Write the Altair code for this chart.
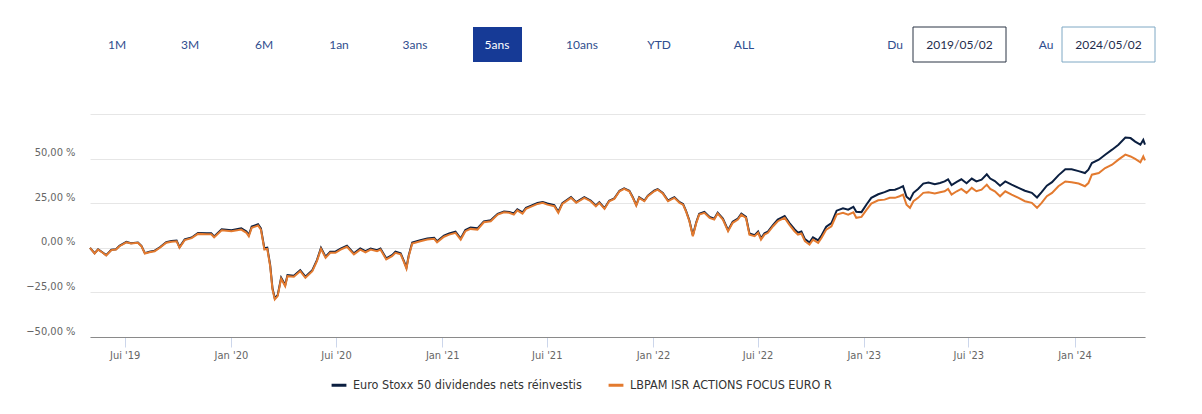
import altair as alt
import pandas as pd

START = "2019-05-02"
SER_IDX = "Euro Stoxx 50 dividendes nets réinvestis"
SER_FUND = "LBPAM ISR ACTIONS FOCUS EURO R"

day_offsets = [0, 8, 14, 22, 28, 37, 45, 51, 63, 71, 83, 89, 95, 103, 112, 121, 132, 141, 150, 155,
               164, 176, 187, 202, 210, 215, 228, 245, 262, 271, 275, 280, 291, 296, 302, 307, 312, 316, 320, 325,
               331, 338, 342, 353, 364, 373, 385, 393, 400, 408, 416, 425, 434, 445, 457, 468, 477, 486, 497, 503,
               513, 523, 529, 538, 543, 548, 552, 558, 572, 584, 596, 601, 613, 622, 633, 642, 650, 659, 671, 682,
               694, 706, 717, 726, 734, 740, 749, 755, 763, 775, 784, 792, 804, 811, 818, 833, 842, 856, 867, 876,
               882, 891, 899, 908, 917, 925, 934, 940, 946, 951, 960, 966, 977, 983, 992, 1001, 1006, 1012, 1021, 1027,
               1032, 1038, 1044, 1050, 1055, 1064, 1073, 1081, 1087, 1096, 1105, 1113, 1122, 1128, 1136, 1142, 1151, 1157, 1162, 1168,
               1174, 1183, 1191, 1203, 1211, 1220, 1226, 1232, 1238, 1246, 1252, 1261, 1267, 1275, 1284, 1293, 1304, 1313, 1322, 1327,
               1336, 1345, 1353, 1365, 1376, 1385, 1394, 1402, 1408, 1414, 1420, 1426, 1434, 1443, 1452, 1463, 1472, 1480, 1486, 1492,
               1501, 1509, 1518, 1527, 1535, 1544, 1553, 1559, 1567, 1576, 1585, 1596, 1608, 1619, 1631, 1640, 1648, 1657, 1666, 1677,
               1689, 1700, 1712, 1723, 1729, 1735, 1747, 1758, 1770, 1781, 1793, 1802, 1810, 1819, 1824, 1827]

fund_perf = [0.0, -3.2, -1.0, -2.8, -4.3, -1.3, -1.0, 0.9, 3.1, 2.4, 2.8, 0.9, -3.2, -2.5, -1.9, 0.0, 2.8, 3.4, 3.7, 0.0,
             4.3, 5.4, 7.8, 7.6, 7.6, 5.9, 9.8, 9.3, 10.2, 8.4, 6.5, 11.2, 12.5, 10.2, -1.0, -0.6, -10.3, -23.3, -28.9, -27.1,
             -17.3, -21.5, -15.9, -16.2, -13.1, -16.8, -13.1, -7.5, -0.6, -5.6, -2.8, -2.8, -1.0, 0.6, -3.7, -1.0, -2.5, -1.0, -1.9, -1.0,
             -6.5, -4.7, -2.8, -3.7, -7.5, -11.7, -4.7, 2.4, 3.7, 4.6, 5.0, 3.1, 6.2, 7.4, 8.4, 4.6, 9.3, 10.6, 10.2, 14.3,
             14.9, 18.6, 19.9, 19.6, 18.6, 21.0, 19.2, 21.8, 22.9, 24.6, 25.2, 24.2, 23.3, 19.6, 24.6, 28.0, 25.2, 28.0, 26.1, 23.3,
             25.2, 21.8, 26.1, 27.4, 31.7, 33.0, 31.7, 28.0, 23.7, 28.0, 26.1, 28.9, 31.7, 32.6, 30.4, 26.1, 27.0, 28.0, 25.2, 24.2,
             20.5, 14.9, 6.5, 14.0, 18.6, 19.6, 16.8, 15.8, 19.2, 15.8, 9.3, 14.0, 15.8, 18.6, 16.8, 7.4, 6.5, 8.4, 4.6, 7.4,
             8.4, 12.1, 14.9, 16.8, 13.0, 9.3, 7.4, 8.0, 3.7, 1.8, 4.6, 2.8, 5.6, 10.2, 12.1, 18.6, 19.6, 18.6, 19.9, 16.8,
             17.3, 21.4, 24.8, 26.6, 27.0, 28.0, 28.0, 28.9, 29.8, 24.2, 22.4, 26.1, 28.0, 30.8, 31.1, 30.4, 31.1, 31.7, 33.0, 29.8,
             31.7, 33.0, 30.8, 33.6, 31.7, 32.6, 35.4, 33.0, 31.7, 28.9, 31.7, 29.8, 28.0, 26.1, 25.2, 22.4, 25.2, 28.9, 30.8, 34.5,
             37.2, 36.7, 36.0, 34.5, 36.3, 41.0, 41.9, 44.7, 46.6, 49.4, 52.2, 51.2, 49.8, 47.9, 51.2, 49.0]

index_perf = [0.0, -3.0, -0.8, -2.6, -4.1, -1.1, -0.8, 1.1, 3.3, 2.6, 3.0, 1.1, -3.0, -2.2, -1.6, 0.3, 3.1, 3.8, 4.1, 0.4,
              4.7, 5.8, 8.3, 8.1, 8.1, 6.4, 10.4, 9.9, 10.9, 9.1, 7.2, 11.9, 13.2, 10.9, -0.3, 0.1, -9.6, -22.6, -28.3, -26.5,
              -16.7, -20.9, -15.3, -15.6, -12.5, -16.2, -12.5, -6.9, 0.0, -5.0, -2.2, -2.2, -0.4, 1.2, -3.1, -0.4, -1.9, -0.4, -1.3, -0.4,
              -5.9, -4.1, -2.2, -3.1, -6.9, -11.1, -4.1, 3.0, 4.3, 5.2, 5.6, 3.7, 6.8, 8.0, 9.0, 5.2, 10.0, 11.3, 10.9, 14.8,
              15.4, 19.0, 20.4, 20.1, 19.3, 21.6, 19.9, 22.4, 23.5, 25.2, 25.7, 24.8, 23.9, 20.2, 25.0, 28.4, 25.6, 28.4, 26.5, 23.7,
              25.6, 22.2, 26.4, 27.7, 32.0, 33.3, 32.0, 28.3, 24.0, 28.3, 26.4, 29.2, 32.0, 32.9, 30.8, 26.5, 27.4, 28.4, 25.6, 24.6,
              20.9, 15.3, 7.0, 14.5, 19.1, 20.1, 17.3, 16.3, 19.7, 16.4, 9.9, 14.6, 16.4, 19.2, 17.4, 8.0, 7.1, 9.1, 5.3, 8.1,
              9.1, 12.9, 15.8, 17.8, 14.0, 10.4, 8.5, 9.2, 4.9, 3.0, 5.9, 4.2, 7.0, 11.8, 13.8, 20.8, 22.2, 21.4, 23.0, 20.2,
              20.0, 24.4, 28.0, 30.0, 31.2, 32.4, 32.6, 33.6, 34.6, 28.6, 27.0, 30.8, 33.0, 36.0, 36.6, 35.6, 36.3, 37.2, 38.4, 35.2,
              37.0, 38.4, 36.2, 38.8, 37.2, 38.2, 41.2, 38.8, 37.4, 34.8, 37.2, 35.4, 33.6, 32.0, 30.8, 28.2, 31.2, 34.8, 36.8, 40.6,
              44.0, 44.0, 43.0, 41.9, 43.8, 47.5, 49.4, 52.2, 55.0, 57.8, 61.8, 61.5, 59.5, 57.8, 60.5, 57.8]

x_tick_dates = [(2019, 7), (2020, 1), (2020, 7), (2021, 1), (2021, 7), (2022, 1),
                (2022, 7), (2023, 1), (2023, 7), (2024, 1)]
y_ticks = [-50, -25, 0, 25, 50, 75]

period_buttons = ["1M", "3M", "6M", "1an", "3ans", "5ans", "10ans", "YTD", "ALL"]
active_button = "5ans"
date_from = "2019/05/02"
date_to = "2024/05/02"

NAVY = "#0b1f40"
ORANGE = "#e37a2f"
AXIS_FONT = "DejaVu Sans Condensed, Liberation Sans Narrow, DejaVu Sans"

dates = (pd.Timestamp(START) + pd.to_timedelta(day_offsets, unit="D")).strftime("%Y-%m-%d")
df_idx = pd.DataFrame({"date": dates, "perf": index_perf, "serie": SER_IDX})
df_fund = pd.DataFrame({"date": dates, "perf": fund_perf, "serie": SER_FUND})

x_scale = alt.Scale(domain=[alt.DateTime(year=2019, month=5, date=2),
                            alt.DateTime(year=2024, month=5, date=2)], nice=False)
y_scale = alt.Scale(domain=[-50, 75], nice=False)
color_scale = alt.Scale(domain=[SER_IDX, SER_FUND], range=[NAVY, ORANGE])

x_axis = alt.Axis(
    values=[alt.DateTime(year=y, month=m, date=1) for y, m in x_tick_dates],
    labelExpr="""(month(datum.value) == 0 ? 'Jan' : 'Jui') + " '" + timeFormat(datum.value, '%y')""",
    title=None, grid=False, domain=True, tickSize=10, tickColor="#ccd6eb", domainColor="#8a8a8a",
    labelColor="#666666", labelFontSize=11, labelFont=AXIS_FONT, labelPadding=2,
    labelFlush=False, labelOverlap=False,
)
y_axis = alt.Axis(
    values=y_ticks,
    labelExpr="datum.value == 75 ? '' : replace(format(datum.value, '.2f'), '.', ',') + ' %'",
    title=None, grid=True, gridColor="#e6e6e6", domain=False, ticks=False,
    labelPadding=15, labelColor="#666666", labelFontSize=11, labelFont=AXIS_FONT,
    labelOffset=-6,
)

legend = alt.Legend(
    title=None, orient="none", legendX=240, legendY=262, direction="horizontal",
    symbolType="stroke", symbolSize=220, symbolStrokeWidth=3, labelFontSize=12.5,
    labelFont=AXIS_FONT, labelColor="#333333", columnPadding=20,
    labelOffset=5, labelLimit=0,
)

line_idx = alt.Chart(df_idx).mark_line(strokeWidth=2).encode(
    x=alt.X("date:T", scale=x_scale, axis=x_axis),
    y=alt.Y("perf:Q", scale=y_scale, axis=y_axis),
    color=alt.Color("serie:N", scale=color_scale, legend=legend),
)
line_fund = alt.Chart(df_fund).mark_line(strokeWidth=2).encode(
    x=alt.X("date:T", scale=x_scale, axis=x_axis),
    y=alt.Y("perf:Q", scale=y_scale, axis=y_axis),
    color=alt.Color("serie:N", scale=color_scale, legend=legend),
)

# --- range selector buttons and date inputs (UI decorations above the plot) ---
btn_x = {"1M": 27, "3M": 100, "6M": 174, "1an": 249, "3ans": 325, "5ans": 407,
         "10ans": 492, "YTD": 569, "ALL": 654}
ui_layers = []
for b in period_buttons:
    if b == active_button:
        ui_layers.append(
            alt.Chart(pd.DataFrame({"t": [b]})).mark_rect(fill="#163a96").encode(
                x=alt.value(btn_x[b] - 24), x2=alt.value(btn_x[b] + 25),
                y=alt.value(-87), y2=alt.value(-52)))
    ui_layers.append(
        alt.Chart(pd.DataFrame({"t": [b]})).mark_text(
            font="Lato", fontSize=12, baseline="middle", align="center",
            color="white" if b == active_button else "#2f4d8e").encode(
            x=alt.value(btn_x[b]), y=alt.value(-69), text="t:N"))

for lab, lab_x, box_x1, box_x2, val, border in [
        ("Du", 805, 823, 916, date_from, "#2b3545"),
        ("Au", 956, 972, 1065, date_to, "#7fa8c4")]:
    ui_layers.append(
        alt.Chart(pd.DataFrame({"t": [lab]})).mark_text(
            font="Lato", fontSize=12, baseline="middle", align="center", color="#2f4d8e").encode(
            x=alt.value(lab_x), y=alt.value(-69), text="t:N"))
    ui_layers.append(
        alt.Chart(pd.DataFrame({"t": [val]})).mark_rect(fill="white", stroke=border, strokeWidth=1).encode(
            x=alt.value(box_x1), x2=alt.value(box_x2), y=alt.value(-87), y2=alt.value(-52)))
    ui_layers.append(
        alt.Chart(pd.DataFrame({"t": [val]})).mark_text(
            font="Lato", fontSize=12, baseline="middle", align="center", color="#1f2d4d").encode(
            x=alt.value((box_x1 + box_x2) / 2), y=alt.value(-69), text="t:N"))

chart = alt.layer(line_idx, line_fund, *ui_layers).properties(
    width=1055, height=223,
    background="white",
    autosize=alt.AutoSizeParams(type="none"),
    padding={"left": 82, "top": 106, "right": 45, "bottom": 60},
).configure_view(strokeWidth=0, strokeOpacity=0)

chart.save("out.html", embed_options={"renderer": "svg", "actions": False})
